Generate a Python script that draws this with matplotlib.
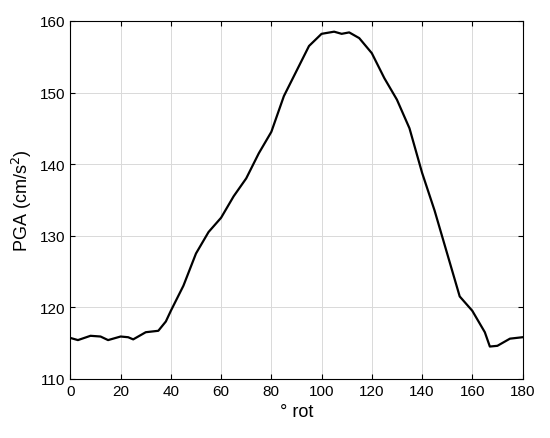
import matplotlib
matplotlib.use("Agg")
import matplotlib.pyplot as plt

# rotation angle (deg) vs PGA (cm/s^2)
rot = [0, 3, 8, 12, 15, 20, 23, 25, 30, 35, 38, 40, 45, 50, 55, 60, 65, 70,
       75, 80, 85, 90, 95, 100, 105, 108, 111, 115, 120, 125, 130, 135, 140,
       145, 150, 155, 160, 165, 167, 170, 175, 180]
pga = [115.7, 115.4, 116.0, 115.9, 115.4, 115.9, 115.8, 115.5, 116.5, 116.7,
       118.0, 119.5, 123.0, 127.5, 130.5, 132.5, 135.5, 138.0, 141.5, 144.5,
       149.5, 153.0, 156.5, 158.2, 158.5, 158.2, 158.4, 157.6, 155.5, 152.0,
       149.0, 145.0, 138.8, 133.5, 127.5, 121.5, 119.5, 116.5, 114.5, 114.6,
       115.6, 115.8]

plt.rcParams["font.family"] = ["Liberation Sans", "DejaVu Sans"]

fig, ax = plt.subplots(figsize=(5.5, 4.39), dpi=100)
ax.plot(rot, pga, color="black", linewidth=1.6)

ax.set_xlim(0, 180)
ax.set_ylim(110, 160)
ax.set_xticks(range(0, 181, 20))
ax.set_yticks(range(110, 161, 10))
ax.grid(True, color="#d9d9d9", linewidth=0.7)
ax.tick_params(direction="in", top=True, right=True, labelsize=11)
ax.set_xlabel("° rot", fontsize=13)
ax.set_ylabel("PGA (cm/s$^2$)", fontsize=13)

fig.subplots_adjust(left=0.128, right=0.95, top=0.95, bottom=0.135)
fig.savefig("out.png")
